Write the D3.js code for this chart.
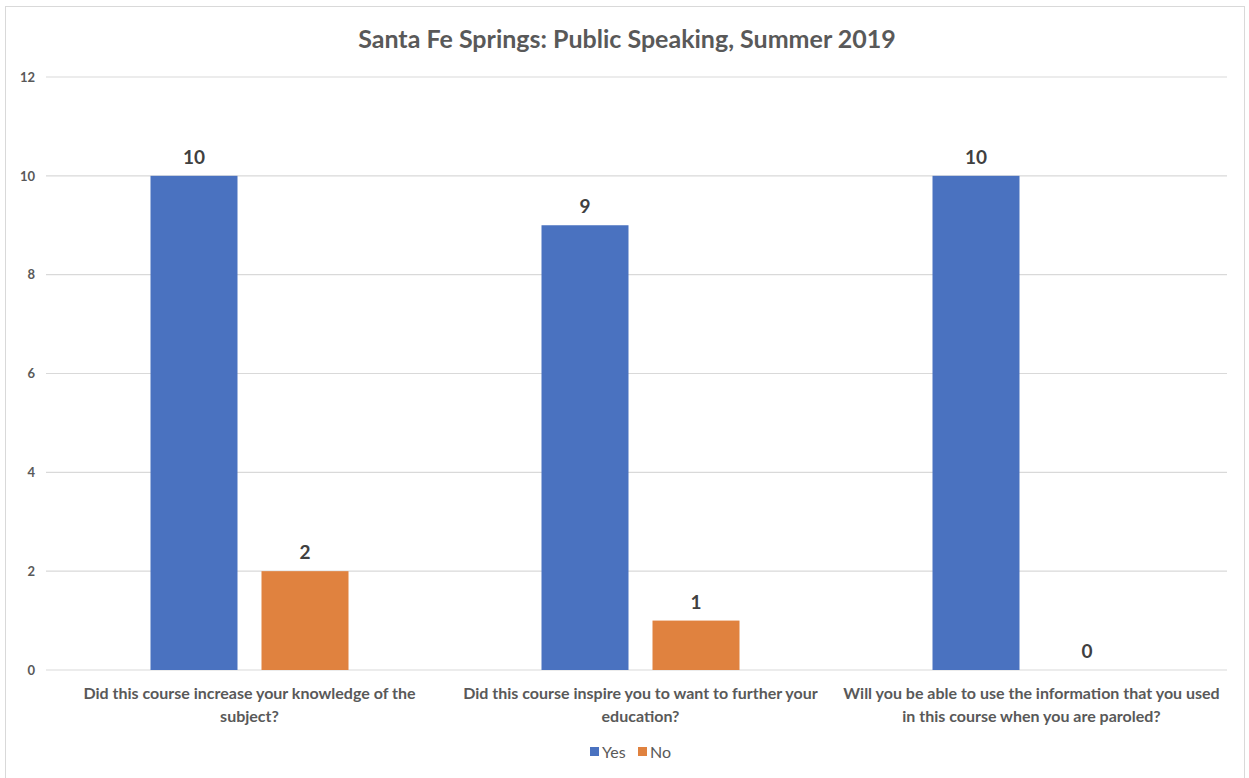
<!DOCTYPE html>
<html><head><meta charset="utf-8">
<script src="https://cdn.jsdelivr.net/npm/d3@7"></script>
<style>
html,body{margin:0;padding:0;background:#fff;}
text{font-family:Lato,"Open Sans",sans-serif;}
</style></head>
<body>
<svg id="c" width="1249" height="778"></svg>
<script>
const categories = [
  ["Did this course increase your knowledge of the", "subject?"],
  ["Did this course inspire you to want to further your", "education?"],
  ["Will you be able to use the information that you used", "in this course when you are paroled?"]
];
const seriesNames = ["Yes", "No"];
const yesValues = [10, 9, 10];
const noValues = [2, 1, 0];
const yTicks = [0, 2, 4, 6, 8, 10, 12];
const colors = ["#4A72C0", "#E0823F"];
const title = "Santa Fe Springs: Public Speaking, Summer 2019";

const svg = d3.select("#c");
const W = 1249, H = 778;
const m = {left: 54, right: 22, top: 77, bottom: 108};
const pw = W - m.left - m.right, ph = H - m.top - m.bottom;

svg.append("rect").attr("x", 5.5).attr("y", 6.5).attr("width", 1239).attr("height", 790)
  .attr("fill", "#fff").attr("stroke", "#d9d9d9");

const g = svg.append("g").attr("transform", `translate(${m.left},${m.top})`);
const y = d3.scaleLinear().domain([0, 12]).range([ph, 0]);
const x0 = d3.scaleBand().domain(d3.range(categories.length)).range([0, pw]).padding(0);
const x1 = d3.scaleBand().domain(seriesNames).range([x0.bandwidth()/2 - 99, x0.bandwidth()/2 + 99]).paddingInner(24/111);

// gridlines
g.append("g").selectAll("line").data(yTicks).join("line")
  .attr("x1", -8).attr("x2", pw).attr("y1", d => y(d)).attr("y2", d => y(d))
  .attr("stroke", "#d9d9d9").attr("stroke-width", 1.2);

// y axis labels
const yAxis = d3.axisLeft(y).tickValues(yTicks).tickSize(0).tickPadding(0);
const ya = g.append("g").attr("transform", "translate(-19,0)").call(yAxis);
ya.select(".domain").remove();
ya.selectAll("text").attr("font-size", 13).attr("font-weight", "bold").attr("fill", "#595959")
  .attr("font-family", "Lato, sans-serif");

const data = categories.map((c, i) => ({i, values: [yesValues[i], noValues[i]]}));
const grp = g.selectAll(".grp").data(data).join("g").attr("class", "grp")
  .attr("transform", d => `translate(${x0(d.i)},0)`);
grp.selectAll("rect").data(d => d.values.map((v, k) => ({k, v}))).join("rect")
  .attr("x", d => x1(seriesNames[d.k])).attr("width", x1.bandwidth())
  .attr("y", d => y(d.v)).attr("height", d => ph - y(d.v))
  .attr("fill", d => colors[d.k]);
grp.selectAll(".lbl").data(d => d.values.map((v, k) => ({k, v}))).join("text").attr("class", "lbl")
  .attr("x", d => x1(seriesNames[d.k]) + x1.bandwidth()/2).attr("y", d => y(d.v) - 12)
  .attr("text-anchor", "middle").attr("font-size", 19).attr("font-weight", "bold").attr("fill", "#404040")
  .text(d => d.v);

// x axis labels
const xl = g.append("g").attr("transform", `translate(0,${ph})`);
categories.forEach((lines, i) => {
  const t = xl.append("text").attr("text-anchor", "middle").attr("font-size", 16).attr("font-weight", "bold")
    .attr("fill", "#595959").attr("x", x0(i) + x0.bandwidth()/2).attr("y", 29);
  lines.forEach((ln, j) => t.append("tspan").attr("x", x0(i) + x0.bandwidth()/2).attr("dy", j ? 23 : 0).text(ln));
});

// title
svg.append("text").attr("x", 627).attr("y", 48).attr("text-anchor", "middle")
  .attr("font-size", 25).attr("font-weight", "bold").attr("fill", "#595959").text(title);

// legend
const lg = svg.append("g").attr("transform", "translate(590,752)");
const items = [{n: "Yes", c: colors[0], x: 0}, {n: "No", c: colors[1], x: 48}];
items.forEach(it => {
  lg.append("rect").attr("x", it.x).attr("y", -5).attr("width", 9).attr("height", 9).attr("fill", it.c);
  lg.append("text").attr("x", it.x + 12).attr("y", 6).attr("font-size", 16).attr("fill", "#595959").text(it.n);
});
</script>
</body></html>
